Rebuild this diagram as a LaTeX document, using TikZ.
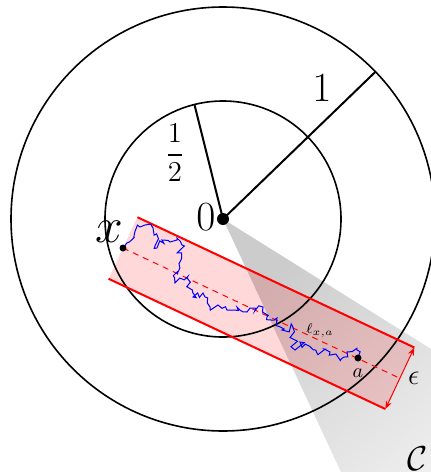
\documentclass[tikz,border=0pt]{standalone}
\usepackage{amsmath,amssymb}
\usetikzlibrary{arrows.meta,calc,positioning,decorations.pathmorphing}

\begin{document}
\begin{tikzpicture}[x=0.5pt,y=0.5pt,
    ring/.style={line width=0.8pt},
    spoke/.style={line width=1pt},
    tube edge/.style={red,line width=1pt},
    big/.style={font=\fontsize{21}{21}\selectfont,inner sep=0pt}]
  \useasboundingbox (0,0) rectangle (431,-472);
  \clip (0,0) rectangle (431,-472);
  \coordinate (o) at (223,-219);
  \coordinate (x) at (123,-248);
  \coordinate (a) at (358,-358);
  % cone seen from the origin
  \shade[top color=gray!40,bottom color=white,shading angle=41.5]
    (o) -- ($(o)+(-32:420)$) -- ($(o)+(-65:420)$) -- cycle;
  % tube of width epsilon around the segment
  \begin{scope}[shift={(x)},rotate=-25.2]
    \coordinate (ul) at (0,34);
    \coordinate (ur) at (306,34);
    \coordinate (lr) at (306,-34);
    \coordinate (ll) at (0,-34);
    \coordinate (xe) at (306,0);
  \end{scope}
  \fill[red,fill opacity=0.15] (ul) -- (ur) -- (lr) -- (ll) -- cycle;
  % the two balls
  \draw[ring] (o) circle[radius=212];
  \draw[ring] (o) circle[radius=118];
  \draw[spoke] (o) -- ($(o)+(44:212)$) coordinate (one);
  \draw[spoke] (o) -- ($(o)+(104:118)$) coordinate (half);
  \draw[tube edge] (ul) -- (ur);
  \draw[tube edge] (ll) -- (lr);
  \draw[red,line width=0.5pt,dash pattern=on 3pt off 2.5pt] (x) -- (xe);
  \draw[red,line width=0.5pt,{Stealth[length=4pt]}-{Stealth[length=4pt]}] (ur) -- (lr)
    node[midway,right=0.5pt,text=black,font=\Large] (eps) {$\epsilon$};
  % the walk
  \pgfmathsetseed{11}
  \draw[blue,line width=0.5pt,decorate,
        decoration={random steps,segment length=1.8pt,amplitude=2pt}]
    (x) -- (140,-227) -- (145,-225) -- (153,-228) -- (157,-248) -- (162,-240)
    -- (170,-242) -- (177,-238) -- (182,-245) -- (177,-272) -- (175,-283)
    -- (187,-278) -- (193,-297) -- (203,-293) -- (210,-307) -- (227,-310)
    -- (237,-307) -- (247,-312) -- (250,-308) -- (263,-307) -- (267,-317)
    -- (277,-318) -- (282,-330) -- (293,-327) -- (295,-350) -- (300,-342)
    -- (317,-353) -- (330,-352) -- (340,-360) -- (347,-352) -- (357,-350) -- (a);
  \fill (o) circle[radius=6];
  \fill (x) circle[radius=3.5];
  \fill (a) circle[radius=3.5];
  % labels
  \node[big] (lo) at (206,-217) {$0$};
  \node[big] (lone) at (322,-88) {$1$};
  \node[font=\Large] (lhalf) at (175,-153) {$\displaystyle\frac{1}{2}$};
  \node[font=\fontsize{23}{23}\selectfont,inner sep=0pt] (lx) at (109,-232) {$x$};
  \node[below=5pt of a,inner sep=0pt] (la) {$a$};
  \node[font=\scriptsize] (lell) at (320,-331) {$\ell_{x,a}$};
  \node[font=\LARGE,inner sep=0pt] (lc) at (418,-459) {$\mathcal{C}$};
\end{tikzpicture}
\end{document}
